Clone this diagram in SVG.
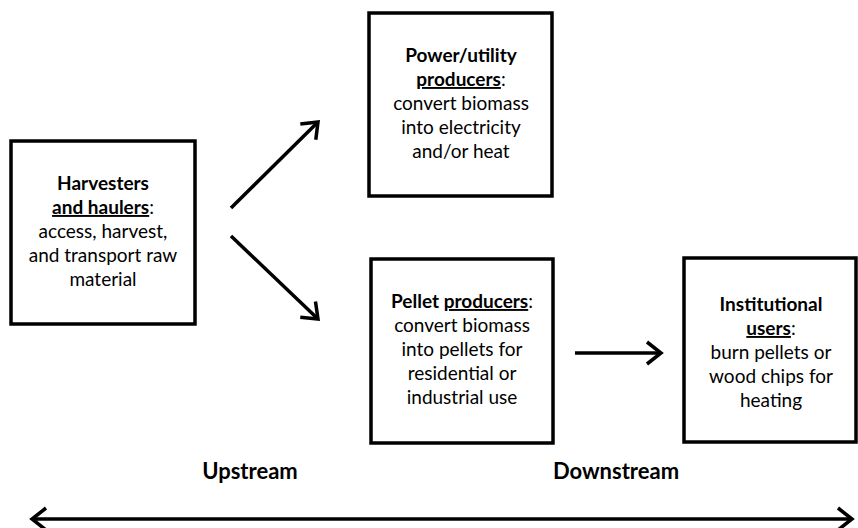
<svg xmlns="http://www.w3.org/2000/svg" width="858" height="528" viewBox="0 0 858 528">
<style>
.box{fill:#fff;stroke:#000;stroke-width:3.5}
.t{font-family:Lato,"Open Sans","Liberation Sans",sans-serif;font-size:19px;fill:#000;text-anchor:middle}
.b{font-weight:bold}
.u{text-decoration:underline}
.lbl{font-family:Lato,"Liberation Sans",sans-serif;font-size:22px;font-weight:bold;fill:#000;text-anchor:middle}
.c{fill:none;stroke:#000;stroke-width:3.5}
</style>
<defs>
<marker id="ah" markerUnits="userSpaceOnUse" markerWidth="30" markerHeight="30" viewBox="-20 -15 25 30" refX="0" refY="0" orient="auto-start-reverse">
<path d="M -14 -11 L 0 0 L -14 11" fill="none" stroke="#000" stroke-width="3.5" stroke-linejoin="miter"/>
</marker>
</defs>
<rect width="858" height="528" fill="#fff"/>
<g id="harvesters">
<rect class="box" x="11" y="141" width="184" height="183"/>
<text class="t" x="103" y="190"><tspan class="b">Harvesters</tspan><tspan x="103" dy="24"><tspan class="b u">and haulers</tspan>:</tspan><tspan x="103" dy="24">access, harvest,</tspan><tspan x="103" dy="24">and transport raw</tspan><tspan x="103" dy="24">material</tspan></text>
</g>
<g id="power">
<rect class="box" x="369" y="13" width="183" height="183"/>
<text class="t" x="461" y="62"><tspan class="b">Power/utility</tspan><tspan x="461" dy="24"><tspan class="b u">producers</tspan>:</tspan><tspan x="461" dy="24">convert biomass</tspan><tspan x="461" dy="24">into electricity</tspan><tspan x="461" dy="24">and/or heat</tspan></text>
</g>
<g id="pellet">
<rect class="box" x="371" y="259" width="182" height="184"/>
<text class="t" x="462" y="308"><tspan class="b">Pellet <tspan class="u">producers</tspan></tspan>:<tspan x="462" dy="24">convert biomass</tspan><tspan x="462" dy="24">into pellets for</tspan><tspan x="462" dy="24">residential or</tspan><tspan x="462" dy="24">industrial use</tspan></text>
</g>
<g id="institutional">
<rect class="box" x="684" y="258" width="172" height="184"/>
<text class="t" x="771" y="311"><tspan class="b">Institutional</tspan><tspan x="771" dy="24"><tspan class="b u">users</tspan>:</tspan><tspan x="771" dy="24">burn pellets or</tspan><tspan x="771" dy="24">wood chips for</tspan><tspan x="771" dy="24">heating</tspan></text>
</g>
<g id="connectors">
<line class="c" x1="231" y1="208" x2="318" y2="122" marker-end="url(#ah)"/>
<line class="c" x1="231" y1="236" x2="318" y2="319" marker-end="url(#ah)"/>
<line class="c" x1="575" y1="353" x2="661" y2="353" marker-end="url(#ah)"/>
<line class="c" x1="32" y1="519" x2="852" y2="519" marker-start="url(#ah)" marker-end="url(#ah)"/>
</g>
<g id="labels">
<text class="lbl" x="250" y="479">Upstream</text>
<text class="lbl" x="616" y="479">Downstream</text>
</g>
</svg>
